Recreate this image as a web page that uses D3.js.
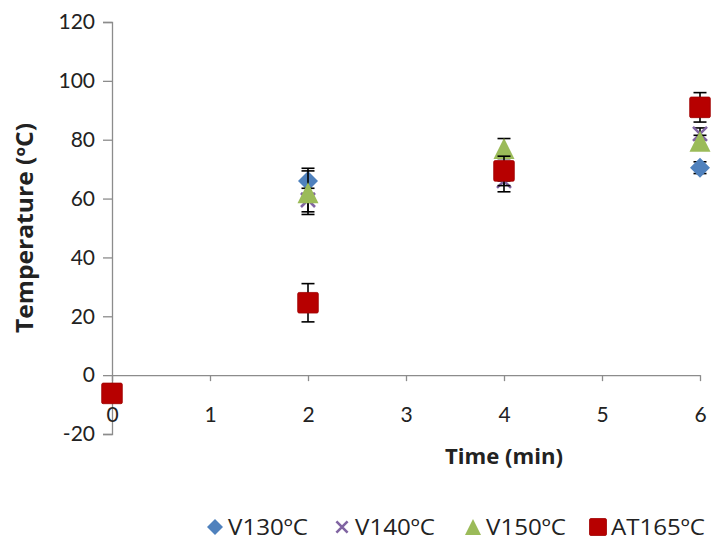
<!DOCTYPE html>
<html>
<head>
<meta charset="utf-8">
<script src="https://cdn.jsdelivr.net/npm/d3@7"></script>
<style>
  body { margin: 0; background: #fff; }
  text { fill: #222; }
</style>
</head>
<body>
<div id="chart"></div>
<script>
// data
const times = [0, 2, 4, 6];
const xTicks = [0, 1, 2, 3, 4, 5, 6];
const yTicks = [-20, 0, 20, 40, 60, 80, 100, 120];

const v130 = [-6, 66, 69, 70.5];
const v130Err = [0.5, 4.3, 3, 2];
const v140 = [-6, 59.5, 66, 82];
const v140Err = [0.5, 4, 3.7, 2];
const v150 = [-6, 62, 77, 79.5];
const v150Err = [0.5, 7.4, 3.4, 2];
const at165 = [-6.2, 24.6, 69.4, 91];
const at165Err = [0.5, 6.5, 5, 5];

const seriesNames = ["V130ºC", "V140ºC", "V150ºC", "AT165ºC"];

const series = [
  { name: seriesNames[0], values: v130, err: v130Err, color: "#4F81BD", shape: "diamond" },
  { name: seriesNames[1], values: v140, err: v140Err, color: "#8064A2", shape: "cross" },
  { name: seriesNames[2], values: v150, err: v150Err, color: "#9BBB59", shape: "triangle" },
  { name: seriesNames[3], values: at165, err: at165Err, color: "#B70000", shape: "square" }
];

const width = 713, height = 540;
const svg = d3.select("#chart").append("svg")
  .attr("width", width).attr("height", height);

const x = d3.scaleLinear().domain([0, 6]).range([112, 700]);
const y = d3.scaleLinear().domain([-20, 120]).range([434, 22]);

// y axis
const yAxis = svg.append("g")
  .attr("transform", `translate(${x(0)},0)`)
  .call(d3.axisLeft(y).tickValues(yTicks).tickSize(9).tickPadding(8).tickFormat(d => String(d)));
yAxis.select(".domain").attr("stroke", "#8c8c8c").attr("stroke-width", 1.3);
yAxis.selectAll(".tick line").attr("stroke", "#8c8c8c").attr("stroke-width", 1.3);
yAxis.selectAll(".tick text").style("font-size", "21px").style("font-family", "Lato, sans-serif");

// x axis, crosses at 0, labels sit low
const xAxis = svg.append("g")
  .attr("transform", `translate(0,${y(0)})`)
  .call(d3.axisBottom(x).tickValues(xTicks).tickSize(6).tickSizeOuter(0).tickFormat(d => String(d)));
xAxis.select(".domain").attr("stroke", "#8c8c8c").attr("stroke-width", 1.3);
xAxis.selectAll(".tick line").attr("stroke", "#8c8c8c").attr("stroke-width", 1.3);
xAxis.selectAll(".tick text").style("font-size", "21px").style("font-family", "Lato, sans-serif")
  .attr("y", 32);

// axis titles
svg.append("text")
  .attr("transform", "translate(33,228) rotate(-90)")
  .attr("text-anchor", "middle")
  .style("font-size", "23px").style("font-weight", "bold")
  .style("font-family", "'Open Sans', sans-serif")
  .attr("textLength", 210).attr("lengthAdjust", "spacingAndGlyphs")
  .text("Temperature (ºC)");

svg.append("text")
  .attr("x", 504).attr("y", 464)
  .attr("text-anchor", "middle")
  .style("font-size", "22px").style("font-weight", "bold")
  .style("font-family", "'Open Sans', sans-serif")
  .attr("textLength", 118).attr("lengthAdjust", "spacingAndGlyphs")
  .text("Time (min)");

// marker shapes
function drawMarker(g, shape, color, s) {
  if (shape === "diamond") {
    g.append("path").attr("d", `M0,${-s}L${s},0L0,${s}L${-s},0Z`).attr("fill", color);
  } else if (shape === "cross") {
    g.append("path").attr("d", `M${-s * 0.7},${-s * 0.7}L${s * 0.7},${s * 0.7}M${-s * 0.7},${s * 0.7}L${s * 0.7},${-s * 0.7}`)
      .attr("stroke", color).attr("stroke-width", 2.6).attr("fill", "none");
  } else if (shape === "triangle") {
    g.append("path").attr("d", `M0,${-s}L${s},${s}L${-s},${s}Z`).attr("fill", color);
  } else {
    g.append("rect").attr("x", -s).attr("y", -s).attr("width", 2 * s).attr("height", 2 * s)
      .attr("rx", 1.5).attr("fill", color).attr("stroke", "#a00000").attr("stroke-width", 0.8);
  }
}

const sizes = { diamond: 10, cross: 10, triangle: 10.5, square: 10.3 };

series.forEach(s => {
  const g = svg.append("g");
  // error bars
  const eb = g.selectAll(".eb").data(times.map((t, i) => ({ t, v: s.values[i], e: s.err[i] })))
    .enter().append("g").attr("class", "eb")
    .attr("stroke", "#000").attr("stroke-width", 1.6);
  eb.append("line")
    .attr("x1", d => x(d.t)).attr("x2", d => x(d.t))
    .attr("y1", d => y(d.v - d.e)).attr("y2", d => y(d.v + d.e));
  eb.append("line")
    .attr("x1", d => x(d.t) - 6.5).attr("x2", d => x(d.t) + 6.5)
    .attr("y1", d => y(d.v + d.e)).attr("y2", d => y(d.v + d.e));
  eb.append("line")
    .attr("x1", d => x(d.t) - 6.5).attr("x2", d => x(d.t) + 6.5)
    .attr("y1", d => y(d.v - d.e)).attr("y2", d => y(d.v - d.e));
  // markers
  times.forEach((t, i) => {
    const m = g.append("g").attr("transform", `translate(${x(t)},${y(s.values[i])})`);
    drawMarker(m, s.shape, s.color, sizes[s.shape]);
  });
});

// legend
const legendX = [215, 342, 473, 598];
const legendW = [80, 80, 80, 94];
const legend = svg.append("g");
series.forEach((s, i) => {
  const m = legend.append("g").attr("transform", `translate(${legendX[i]},527)`);
  drawMarker(m, s.shape, s.color, s.shape === "square" ? 8.5 : 8);
  legend.append("text")
    .attr("x", legendX[i] + 13).attr("y", 535)
    .style("font-size", "22px")
    .style("font-family", "'Open Sans', sans-serif")
    .attr("textLength", legendW[i]).attr("lengthAdjust", "spacingAndGlyphs")
    .text(s.name);
});
</script>
</body>
</html>
